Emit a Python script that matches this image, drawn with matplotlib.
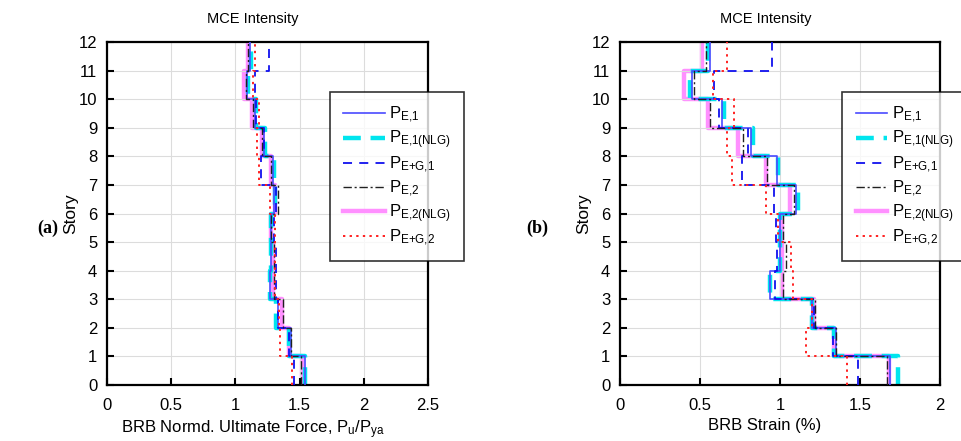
import matplotlib.pyplot as plt
import numpy as np

plt.rcParams["font.family"] = ["Liberation Sans", "DejaVu Sans"]
plt.rcParams["mathtext.fontset"] = "custom"
plt.rcParams["mathtext.rm"] = "Liberation Sans"
plt.rcParams["mathtext.it"] = "Liberation Sans"

# story levels 0..12, values are per story (1..12)
stories = np.arange(0, 13)

#(a) normalized ultimate force
force_pe1 = [1.54, 1.43, 1.33, 1.27, 1.28, 1.28, 1.30, 1.29, 1.22, 1.15, 1.09, 1.11]
force_pe1_nlg = [1.54, 1.42, 1.32, 1.27, 1.28, 1.28, 1.31, 1.30, 1.23, 1.16, 1.10, 1.12]
force_peg1 = [1.46, 1.42, 1.33, 1.32, 1.32, 1.30, 1.32, 1.20, 1.22, 1.16, 1.15, 1.26]
force_pe2 = [1.51, 1.43, 1.37, 1.30, 1.30, 1.28, 1.33, 1.28, 1.21, 1.14, 1.08, 1.10]
force_pe2_nlg = [1.52, 1.42, 1.36, 1.29, 1.29, 1.28, 1.31, 1.28, 1.21, 1.13, 1.07, 1.10]
force_peg2 = [1.44, 1.35, 1.34, 1.31, 1.31, 1.31, 1.27, 1.18, 1.17, 1.18, 1.14, 1.15]

#(b) strain in %
strain_pe1 = [1.69, 1.35, 1.20, 0.94, 1.00, 1.00, 1.10, 0.98, 0.82, 0.64, 0.45, 0.56]
strain_pe1_nlg = [1.74, 1.34, 1.20, 0.94, 1.00, 1.00, 1.11, 0.99, 0.83, 0.65, 0.44, 0.55]
strain_peg1 = [1.49, 1.33, 1.21, 0.97, 0.98, 0.975, 0.96, 0.76, 0.80, 0.62, 0.59, 0.95]
strain_pe2 = [1.67, 1.35, 1.22, 1.02, 1.04, 1.02, 1.09, 0.92, 0.77, 0.56, 0.46, 0.54]
strain_pe2_nlg = [1.68, 1.34, 1.21, 1.01, 1.01, 1.01, 1.06, 0.91, 0.74, 0.55, 0.40, 0.51]
strain_peg2 = [1.42, 1.16, 1.20, 1.08, 1.07, 0.99, 0.91, 0.70, 0.67, 0.71, 0.58, 0.67]

labels = [r"$\mathregular{P_{E{,}1}}$", r"$\mathregular{P_{E{,}1(NLG)}}$", r"$\mathregular{P_{E{+}G{,}1}}$",
          r"$\mathregular{P_{E{,}2}}$", r"$\mathregular{P_{E{,}2(NLG)}}$", r"$\mathregular{P_{E{+}G{,}2}}$"]

styles = [
    dict(color="#4a4aff", lw=1.2, ls="-", zorder=4),
    dict(color="#00e5ee", lw=3.2, ls=(0, (4, 2.2)), zorder=2),
    dict(color="#1010ee", lw=1.3, ls=(0, (5, 4)), zorder=5),
    dict(color="#202020", lw=1.0, ls=(0, (6, 2, 1.5, 2)), zorder=6),
    dict(color="#ff90ff", lw=3.2, ls="-", zorder=1),
    dict(color="#ff2020", lw=1.4, ls=(0, (1.2, 2.2)), zorder=7),
]


def step_xy(vals):
    """turn per story values into vertical step coordinates"""
    xs = np.repeat(vals, 2)
    ys = np.repeat(stories, 2)[1:-1]
    return xs, ys


def draw_panel(ax, series, xmax, xticks, xlabel, panel, panel_x, handle_len):
    ax.grid(True, color="#dcdcdc", lw=0.8, zorder=0)
    handles = []
    for vals, st in zip(series, styles):
        xs, ys = step_xy(vals)
        h, = ax.plot(xs, ys, **st)
        handles.append(h)

    ax.set_xlim(0, xmax)
    ax.set_ylim(0, 12)
    ax.set_xticks(xticks)
    ax.set_xticklabels(["{:g}".format(t) for t in xticks])
    ax.set_yticks(stories)
    ax.tick_params(direction="in", length=5, width=1.5, labelsize=12)
    ax.tick_params(axis="x", pad=9)
    ax.tick_params(axis="y", pad=7)
    for sp in ax.spines.values():
        sp.set_linewidth(1.6)

    ax.set_title("MCE Intensity", fontsize=10.5, x=0.455, pad=14)
    ax.set_xlabel(xlabel, fontsize=12)
    ax.xaxis.set_label_coords(0.453, -0.097)
    ax.set_ylabel("Story", fontsize=12.5)
    ax.yaxis.set_label_coords(-0.09, 0.5)
    fig.text(panel_x, 0.483, panel, fontsize=13, fontweight="bold",
             family="Liberation Serif", va="center", ha="right")

    leg = ax.legend(handles, labels, loc="upper left", bbox_to_anchor=(0.695, 0.855),
                    fontsize=12, frameon=True, fancybox=False, handlelength=handle_len,
                    labelspacing=0.2, borderpad=0.8, handletextpad=0.25, borderaxespad=0)
    leg.get_frame().set_edgecolor("black")
    leg.get_frame().set_linewidth(1.2)
    leg.set_zorder(10)


fig = plt.figure(figsize=(9.61, 4.41), dpi=100)
ax1 = fig.add_axes([107 / 961, 56 / 441, 321 / 961, 343 / 441])
ax2 = fig.add_axes([620 / 961, 56 / 441, 320 / 961, 343 / 441])

draw_panel(ax1, [force_pe1, force_pe1_nlg, force_peg1, force_pe2, force_pe2_nlg, force_peg2],
           2.5, [0, 0.5, 1, 1.5, 2, 2.5],
           r"BRB Normd. Ultimate Force, $\mathregular{P_u/P_{ya}}$", "(a)", 58 / 961, 2.5)
draw_panel(ax2, [strain_pe1, strain_pe1_nlg, strain_peg1, strain_pe2, strain_pe2_nlg, strain_peg2],
           2, [0, 0.5, 1, 1.5, 2],
           "BRB Strain (%)", "(b)", 548 / 961, 1.9)

fig.savefig("out.png", dpi=100)
